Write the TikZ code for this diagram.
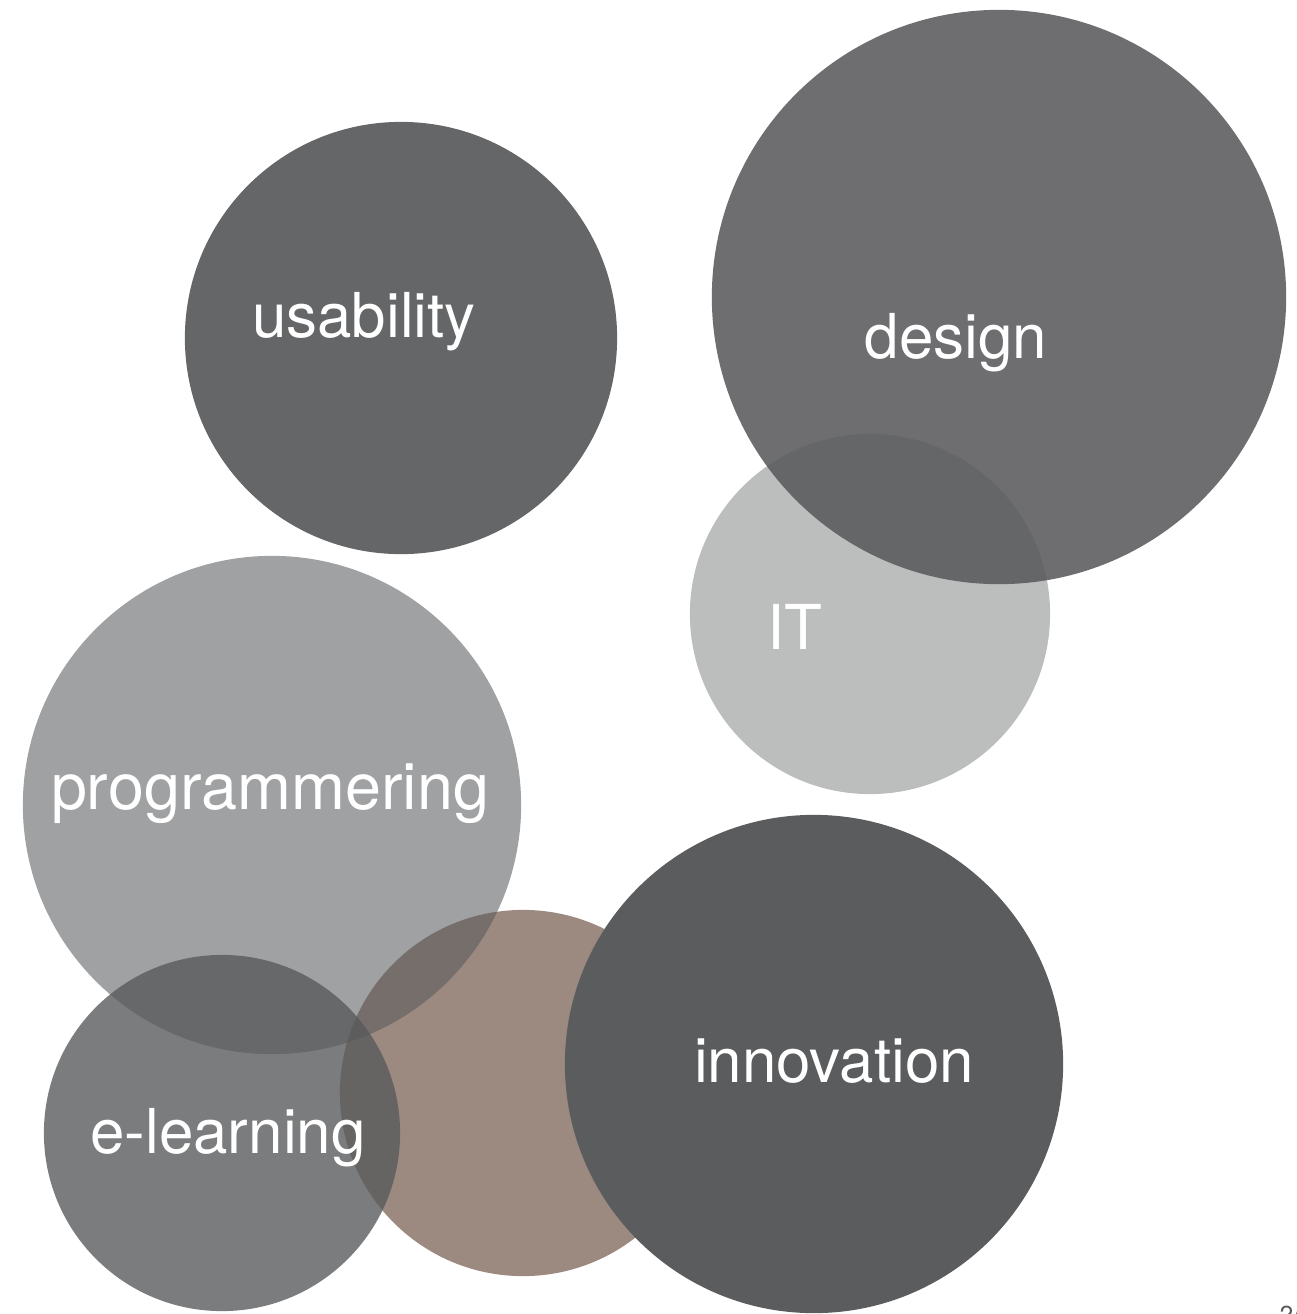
\documentclass[tikz,border=0pt]{standalone}
\usepackage{fontspec}
\setmainfont{TeX Gyre Heros}
\definecolor{bubgray}{HTML}{58595B}
\definecolor{bubbrown}{HTML}{9C8A81}
\definecolor{innogray}{HTML}{5B5C5E}

\begin{document}
\begin{tikzpicture}[x=0.01cm, y=-0.01cm,
        bubble/.style={fill=bubgray, fill opacity=#1},
        word/.style={anchor=base, text=white, font=\fontsize{17.6}{20}\selectfont}]
    \useasboundingbox (0,0) rectangle (1297,1314);
    % bubbles, back to front
    \fill[bubbrown] (523,1093) circle (1.83cm);
    \fill[bubble=0.57] (272,805) circle (2.49cm);
    \fill[bubble=0.79] (222,1133) circle (1.78cm);
    \fill[innogray] (814,1064) circle (2.49cm);
    \fill[bubble=0.92] (401,338) circle (2.16cm);
    \fill[bubble=0.40] (870,614) circle (1.80cm);
    \fill[bubble=0.87] (999,297) circle (2.87cm);
    % labels
    \node[word] (usab) at (364,337) {usability};
    \node[word] (dsgn) at (956,358) {design};
    \node[word] (it) at (795,649) {IT};
    \node[word, font=\fontsize{18.4}{20}\selectfont] (prog) at (270,809) {programmering};
    \node[word] (elrn) at (228,1153) {e-learning};
    \node[word] (innov) at (834,1082) {innovation};
    \node[anchor=north west, inner sep=0pt, text=bubgray, font=\fontsize{7}{8}\selectfont] (pnum) at (1279,1305) {2/};
\end{tikzpicture}
\end{document}
